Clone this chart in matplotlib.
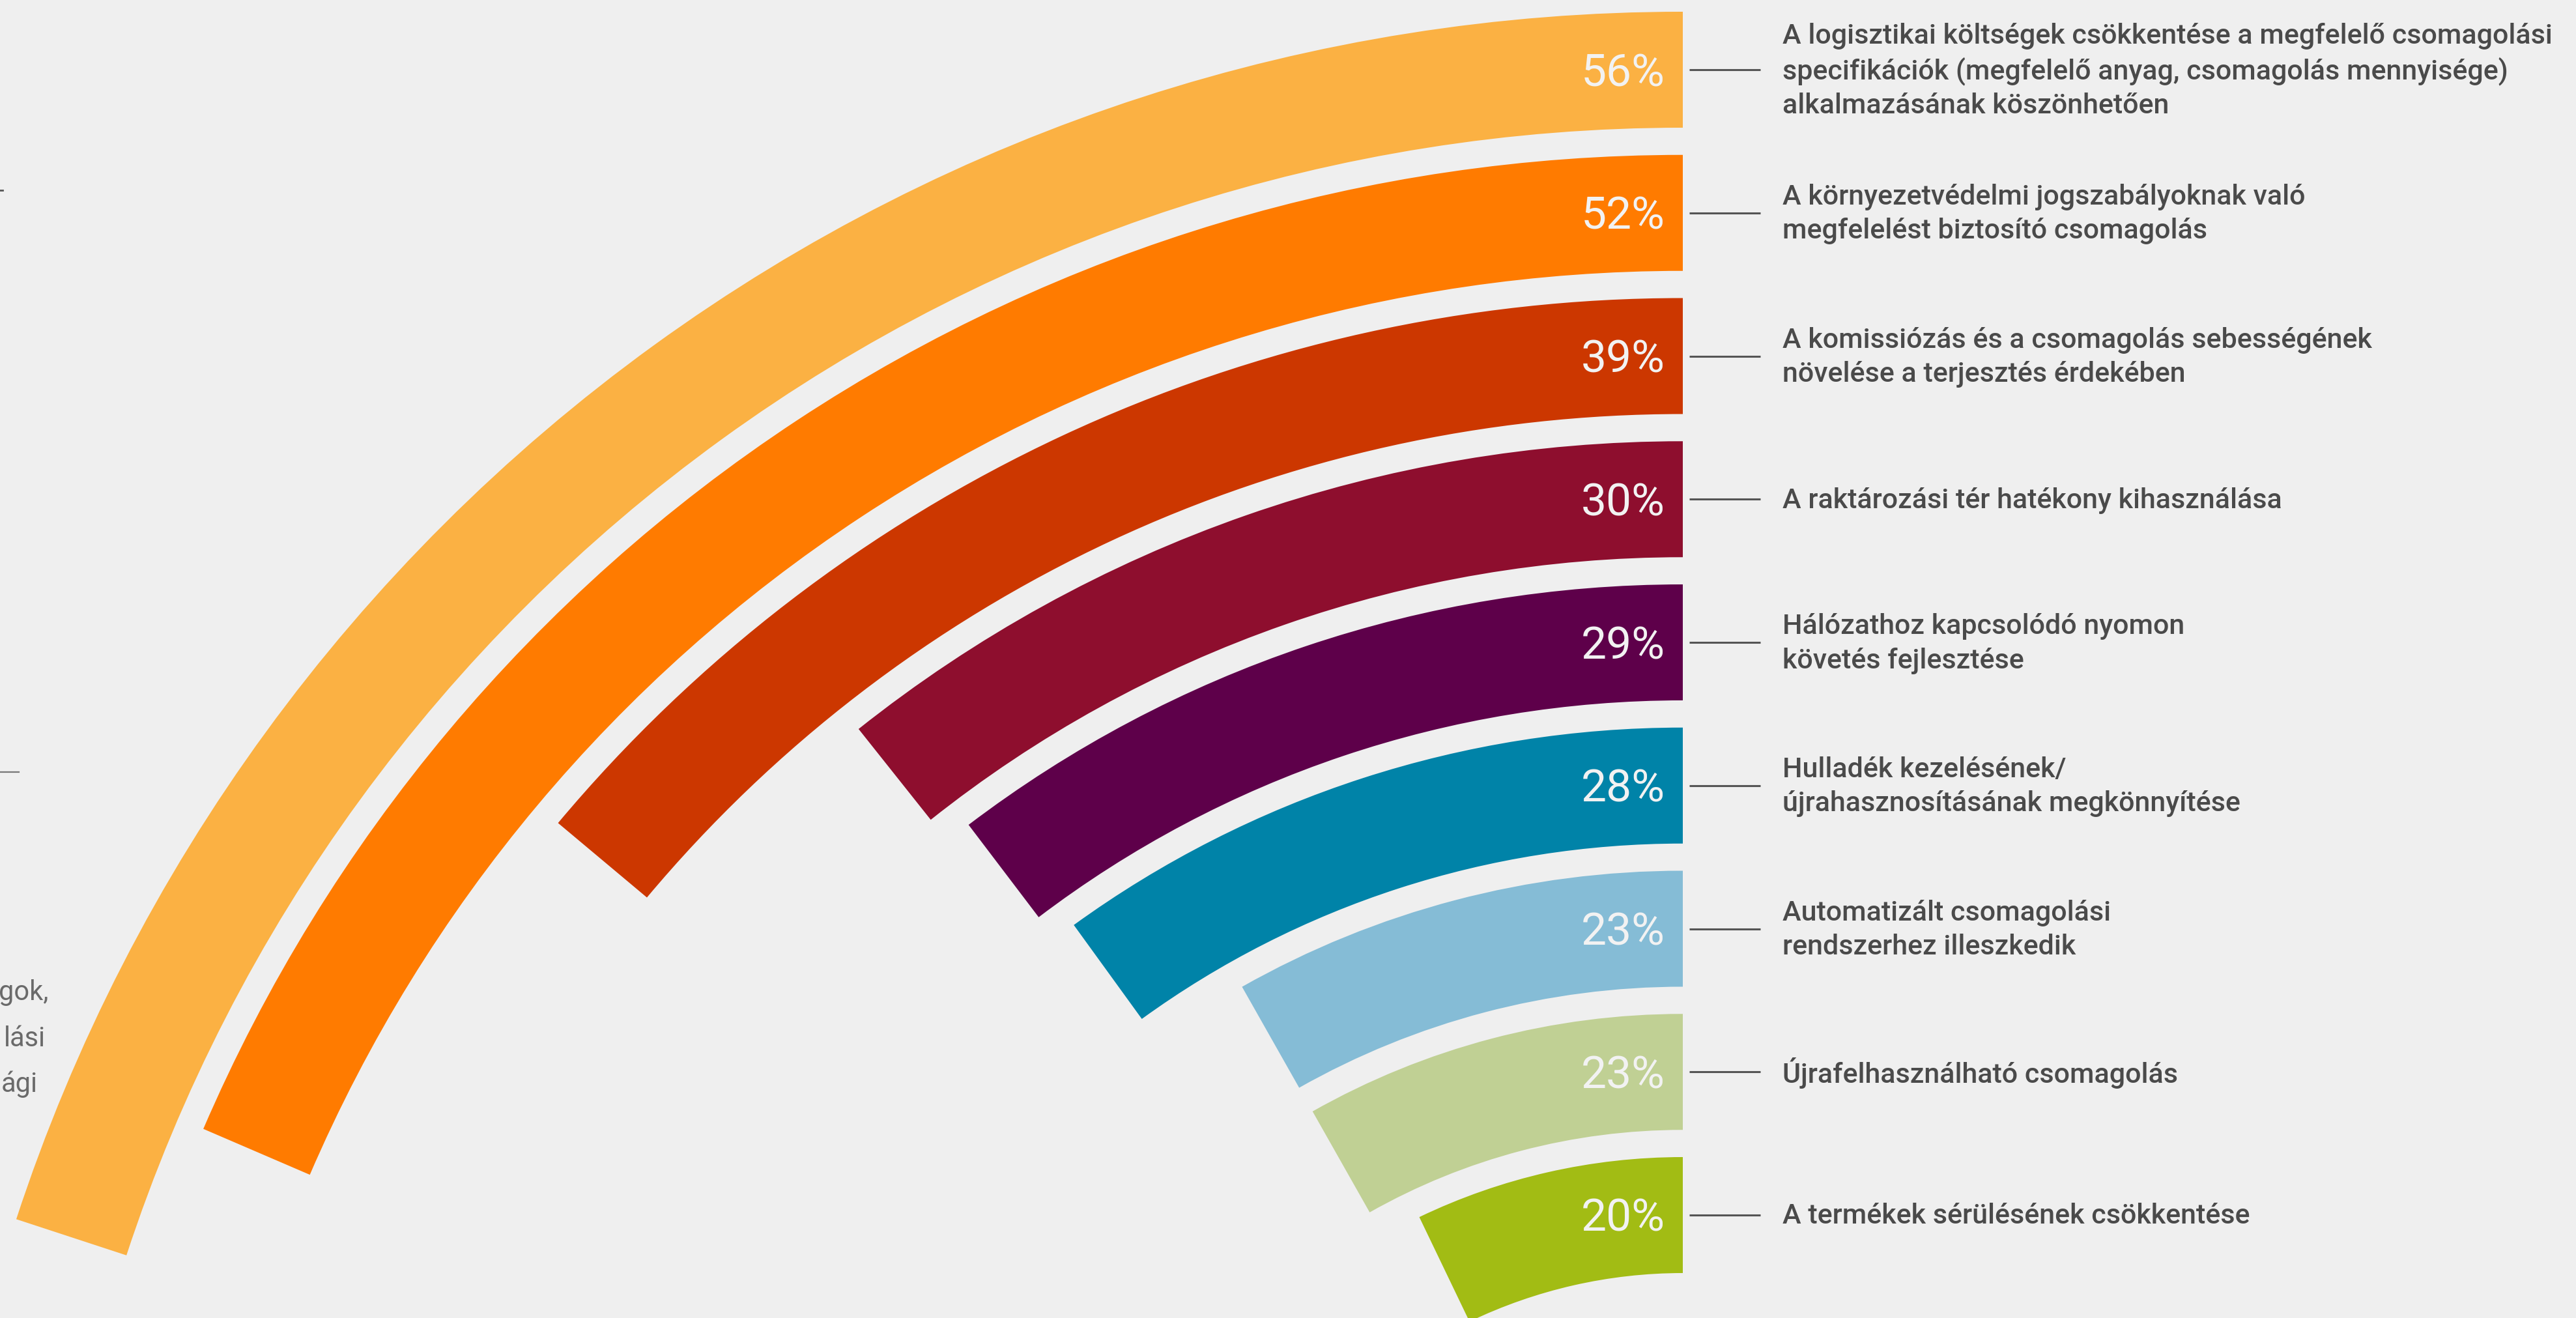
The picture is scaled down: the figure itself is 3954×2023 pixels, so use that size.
import matplotlib
matplotlib.use("Agg")
import matplotlib.pyplot as plt
from matplotlib.patches import Wedge

# ─── data ──────────────────────────────────────────────────────────────
values = [56, 52, 39, 30, 29, 28, 23, 23, 20]
labels = [
    "A logisztikai költségek csökkentése a megfelelő csomagolási\n"
    "specifikációk (megfelelő anyag, csomagolás mennyisége)\n"
    "alkalmazásának köszönhetően",
    "A környezetvédelmi jogszabályoknak való\nmegfelelést biztosító csomagolás",
    "A komissiózás és a csomagolás sebességének\nnövelése a terjesztés érdekében",
    "A raktározási tér hatékony kihasználása",
    "Hálózathoz kapcsolódó nyomon\nkövetés fejlesztése",
    "Hulladék kezelésének/\nújrahasznosításának megkönnyítése",
    "Automatizált csomagolási\nrendszerhez illeszkedik",
    "Újrafelhasználható csomagolás",
    "A termékek sérülésének csökkentése",
]
colors = ["#FBB143", "#FF7B00", "#CC3700", "#8E0E2E", "#5E004A",
          "#0083A8", "#85BCD6", "#C0D094", "#A2BC14"]
left_fragments = ["gok,", "lási", "ági"]

# ─── layout (pixel units) ──────────────────────────────────────────────
W, H = 3954, 2023
BG = "#EFEFEF"
cx, cy = 2583, 2710          # common centre of the rings
r0 = cy - 18                 # outer radius of the first ring
pitch, ring_w = 219.75, 178
deg_per_pct = 1.283          # sweep angle per percent

fig = plt.figure(figsize=(W / 100, H / 100), dpi=100, facecolor=BG)
ax = fig.add_axes([0, 0, 1, 1])
ax.set_xlim(0, W)
ax.set_ylim(H, 0)
ax.axis("off")
ax.set_facecolor(BG)

for i, (v, lab, c) in enumerate(zip(values, labels, colors)):
    r = r0 - i * pitch
    sweep = v * deg_per_pct
    # y axis is inverted, so "up" is 270 degrees in data space
    ax.add_patch(Wedge((cx, cy), r, 270 - sweep, 270, width=ring_w,
                       facecolor=c, edgecolor="none"))
    ymid = cy - r + ring_w / 2
    ax.text(cx - 27, ymid + 6, f"{v}%", ha="right", va="center",
            fontsize=50, color="#F2F2F2", family="Roboto")
    ax.plot([cx + 10, cx + 119], [ymid, ymid], color="#555555", lw=2.2,
            solid_capstyle="butt")
    ax.text(cx + 153, ymid + 2, lab, ha="left", va="center", fontsize=31,
            color="#4A4A4A", family="Roboto", weight="medium",
            linespacing=1.35)

# cut-off fragments of the neighbouring panel on the left edge
ax.plot([0, 29], [1185, 1185], color="#777777", lw=1.6)
ax.plot([0, 4], [292, 292], color="#555555", lw=2)
for txt, x, y in zip(left_fragments, [74, 70, 58], [1523, 1594, 1664]):
    ax.text(x, y, txt, ha="right", va="center", fontsize=30,
            color="#6A6A6A", family="Roboto")

fig.savefig("out.png", dpi=100, facecolor=BG)
